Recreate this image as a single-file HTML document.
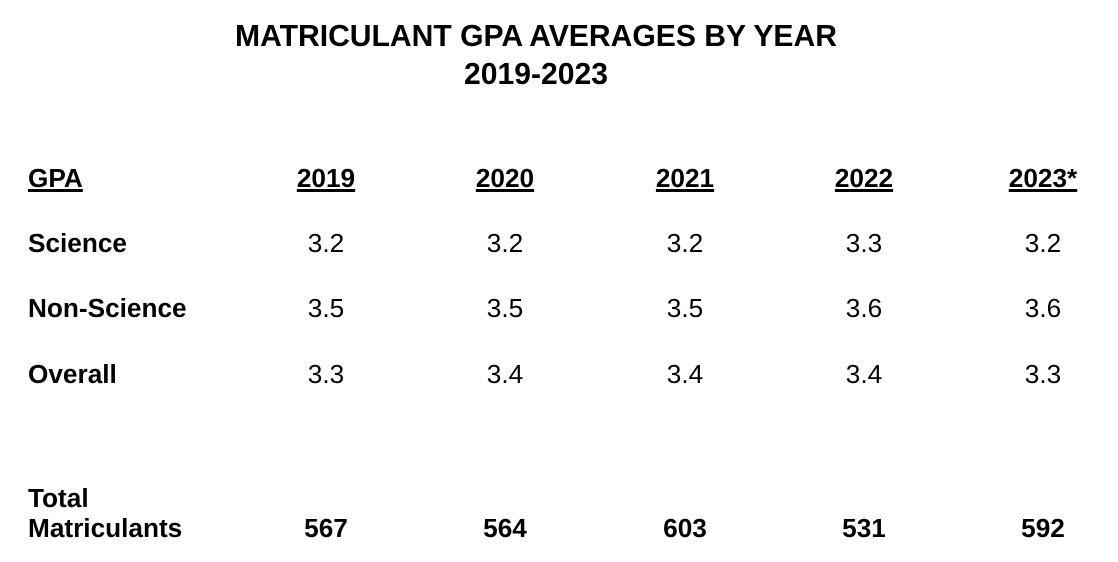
<!DOCTYPE html>
<html><head><meta charset="utf-8"><style>
html,body{margin:0;padding:0;background:#fff;}
body{width:1118px;height:562px;position:relative;overflow:hidden;font-family:"Liberation Sans",Arial,sans-serif;color:#000;}
.t{position:absolute;white-space:nowrap;}
.title{left:0;width:1072px;text-align:center;font-size:30.1px;line-height:30px;font-weight:bold;}
.r{font-size:26.2px;line-height:26px;}
.b{font-weight:bold;}
.c{width:200px;text-align:center;}
.u{text-decoration:underline;text-decoration-thickness:2.5px;text-underline-offset:2px;}
</style></head><body>
<div class="t title" style="top:21.5px;">MATRICULANT GPA AVERAGES BY YEAR</div>
<div class="t title" style="top:59.5px;">2019-2023</div>

<div class="t r b u" style="left:28px;top:165px;">GPA</div>
<div class="t r b c" style="left:226px;top:165px;"><span class="u">2019</span></div>
<div class="t r b c" style="left:405px;top:165px;"><span class="u">2020</span></div>
<div class="t r b c" style="left:585px;top:165px;"><span class="u">2021</span></div>
<div class="t r b c" style="left:764px;top:165px;"><span class="u">2022</span></div>
<div class="t r b c" style="left:943px;top:165px;"><span class="u">2023*</span></div>

<div class="t r b" style="left:28px;top:230px;">Science</div>
<div class="t r c" style="left:226px;top:230px;">3.2</div>
<div class="t r c" style="left:405px;top:230px;">3.2</div>
<div class="t r c" style="left:585px;top:230px;">3.2</div>
<div class="t r c" style="left:764px;top:230px;">3.3</div>
<div class="t r c" style="left:943px;top:230px;">3.2</div>

<div class="t r b" style="left:28px;top:295px;">Non-Science</div>
<div class="t r c" style="left:226px;top:295px;">3.5</div>
<div class="t r c" style="left:405px;top:295px;">3.5</div>
<div class="t r c" style="left:585px;top:295px;">3.5</div>
<div class="t r c" style="left:764px;top:295px;">3.6</div>
<div class="t r c" style="left:943px;top:295px;">3.6</div>

<div class="t r b" style="left:28px;top:361px;">Overall</div>
<div class="t r c" style="left:226px;top:361px;">3.3</div>
<div class="t r c" style="left:405px;top:361px;">3.4</div>
<div class="t r c" style="left:585px;top:361px;">3.4</div>
<div class="t r c" style="left:764px;top:361px;">3.4</div>
<div class="t r c" style="left:943px;top:361px;">3.3</div>

<div class="t r b" style="left:28px;top:485px;">Total</div>
<div class="t r b" style="left:28px;top:515px;">Matriculants</div>
<div class="t r b c" style="left:226px;top:515px;">567</div>
<div class="t r b c" style="left:405px;top:515px;">564</div>
<div class="t r b c" style="left:585px;top:515px;">603</div>
<div class="t r b c" style="left:764px;top:515px;">531</div>
<div class="t r b c" style="left:943px;top:515px;">592</div>
</body></html>
